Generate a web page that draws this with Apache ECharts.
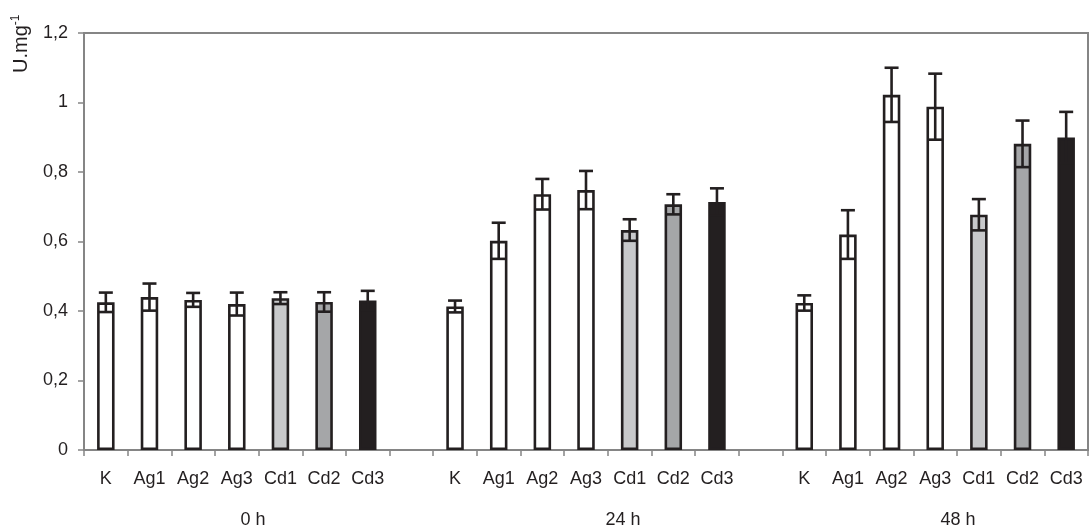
<!DOCTYPE html>
<html><head><meta charset="utf-8">
<script src="https://cdn.jsdelivr.net/npm/echarts@6/dist/echarts.min.js"></script>
<style>html,body{margin:0;padding:0;background:#fff}#c{width:1089px;height:529px}</style>
</head><body><div id="c"></div>
<script>
// ---- data ----
const treatments = ['K', 'Ag1', 'Ag2', 'Ag3', 'Cd1', 'Cd2', 'Cd3'];
const groups = ['0 h', '24 h', '48 h'];
const values0h  = [0.425, 0.440, 0.432, 0.420, 0.437, 0.426, 0.430];
const errors0h  = [0.028, 0.039, 0.020, 0.033, 0.017, 0.028, 0.028];
const values24h = [0.413, 0.602, 0.736, 0.748, 0.633, 0.707, 0.714];
const errors24h = [0.017, 0.052, 0.044, 0.055, 0.031, 0.029, 0.039];
const values48h = [0.423, 0.620, 1.022, 0.988, 0.677, 0.881, 0.899];
const errors48h = [0.022, 0.070, 0.078, 0.095, 0.045, 0.067, 0.074];
const yTickLabels = ['0', '0,2', '0,4', '0,6', '0,8', '1', '1,2'];

// ---- styles ----
const fills = { K: '#ffffff', Ag1: '#ffffff', Ag2: '#ffffff', Ag3: '#ffffff', Cd1: '#c8c9cb', Cd2: '#a5a6a8', Cd3: '#231f20' };
const ink = '#231f20';
const axisGray = '#858585';

// build category list with a blank gap between groups
const groupVals = [values0h, values24h, values48h];
const groupErrs = [errors0h, errors24h, errors48h];
const categories = [];
const barData = [];
const errData = [];
groupVals.forEach((vals, g) => {
  if (g > 0) { categories.push(''); barData.push(null); }
  vals.forEach((v, i) => {
    const idx = categories.length;
    categories.push(treatments[i]);
    barData.push({ value: v, itemStyle: { color: fills[treatments[i]] } });
    const e = groupErrs[g][i];
    errData.push([idx, v - e, v + e]);
  });
});

const chart = echarts.init(document.getElementById('c'), null, { renderer: 'canvas' });
const font = 'Liberation Sans, Arial, sans-serif';

function renderErr(params, api) {
  const x = api.value(0), lo = api.value(1), hi = api.value(2);
  const pHi = api.coord([x, hi]);
  const pLo = api.coord([x, lo]);
  const hw = 7;
  const style = { stroke: ink, lineWidth: 2.6, fill: null };
  return {
    type: 'group',
    children: [
      { type: 'line', shape: { x1: pHi[0], y1: pHi[1], x2: pLo[0], y2: pLo[1] }, style },
      { type: 'line', shape: { x1: pHi[0] - hw, y1: pHi[1], x2: pHi[0] + hw, y2: pHi[1] }, style },
      { type: 'line', shape: { x1: pLo[0] - hw, y1: pLo[1], x2: pLo[0] + hw, y2: pLo[1] }, style }
    ]
  };
}

const option = {
  animation: false,
  backgroundColor: '#fff',
  textStyle: { fontFamily: font },
  grid: { left: 84, right: 1, top: 33, bottom: 79, show: true, borderColor: axisGray, borderWidth: 2, backgroundColor: 'transparent' },
  graphic: [{
    type: 'text',
    rotation: Math.PI / 2,
    x: 10, y: 73,
    style: {
      text: '{main|U.mg}{sup|-1}',
      fontSize: 20,
      fontFamily: font,
      fill: ink,
      rich: {
        main: { fontSize: 20, fontFamily: font, fill: ink },
        sup: { fontSize: 12, fontFamily: font, fill: ink, padding: [0, 0, 10, 0] }
      }
    }
  }],
  xAxis: [{
    type: 'category',
    data: categories,
    boundaryGap: true,
    axisLine: { lineStyle: { color: axisGray, width: 2 } },
    axisTick: { show: true, interval: 0, length: 6, lineStyle: { color: axisGray, width: 1.5 } },
    axisLabel: { interval: 0, color: ink, fontSize: 18, fontFamily: font, margin: 20 },
    splitLine: { show: false }
  }, {
    type: 'value',
    min: 0, max: categories.length,
    position: 'bottom',
    axisLine: { show: false },
    axisTick: { show: false },
    splitLine: { show: false },
    axisLabel: {
      show: true,
      customValues: [3.87, 12.35, 20.02],
      formatter: (v) => {
        const m = { '3.87': groups[0], '12.35': groups[1], '20.02': groups[2] };
        return m[String(v)] || '';
      },
      color: ink, fontSize: 18, fontFamily: font, margin: 61
    }
  }],
  yAxis: {
    type: 'value',
    min: 0, max: 1.2, interval: 0.2,
    axisLine: { show: true, lineStyle: { color: axisGray, width: 2 } },
    axisTick: { show: true, length: 6, lineStyle: { color: axisGray, width: 1.5 } },
    axisLabel: {
      color: ink, fontSize: 18, fontFamily: font, margin: 16,
      formatter: (v) => yTickLabels[Math.round(v / 0.2)]
    },
    splitLine: { show: false }
  },
  series: [{
    type: 'bar',
    data: barData,
    barWidth: 17.5,
    itemStyle: { borderColor: ink, borderWidth: 2.6 },
    z: 2
  }, {
    type: 'custom',
    renderItem: renderErr,
    data: errData,
    encode: { x: 0, y: [1, 2] },
    z: 3
  }]
};
chart.setOption(option);
</script>
</body></html>
